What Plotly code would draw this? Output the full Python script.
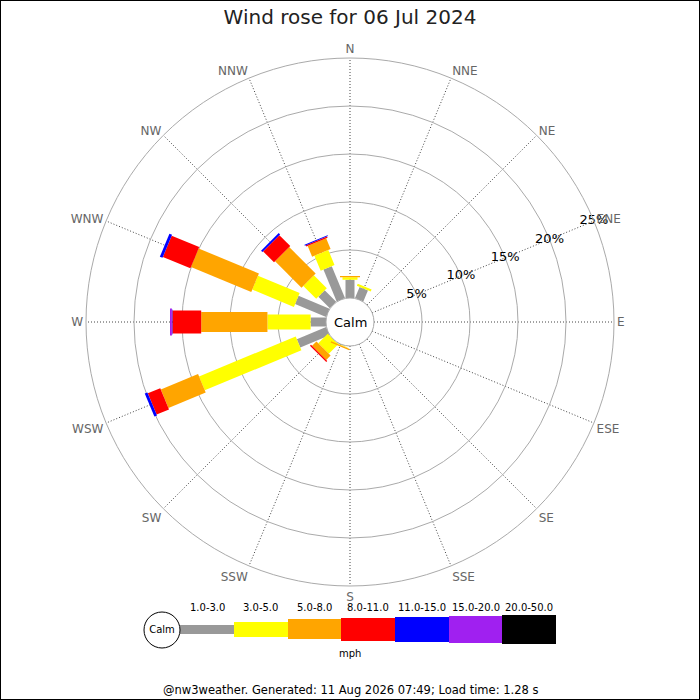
import plotly.graph_objects as go

# wind rose data, % of time per direction and speed bin
directions = ['N', 'NNE', 'NE', 'ENE', 'E', 'ESE', 'SE', 'SSE',
              'S', 'SSW', 'SW', 'WSW', 'W', 'WNW', 'NW', 'NNW']
speed_bins = ['1.0-3.0', '3.0-5.0', '5.0-8.0', '8.0-11.0', '11.0-15.0', '15.0-20.0', '20.0-50.0']

pct_1_3 = [1.9, 1.25, 0, 0, 0, 0, 0, 0, 0, 0.05, 0.0, 3.3, 1.6, 3.5, 1.7, 3.6]
pct_3_5 = [0.25, 0.25, 0, 0, 0, 0, 0, 0, 0, 0.05, 1.4, 10.9, 4.5, 4.7, 1.9, 1.7]
pct_5_8 = [0.15, 0, 0, 0, 0, 0, 0, 0, 0, 0.15, 0.65, 4.2, 6.9, 6.8, 3.9, 1.2]
pct_8_11 = [0, 0, 0, 0, 0, 0, 0, 0, 0, 0, 0.15, 1.4, 3.0, 3.1, 1.6, 0.15]
pct_11_15 = [0, 0, 0, 0, 0, 0, 0, 0, 0, 0, 0, 0.3, 0.05, 0.3, 0.2, 0.1]
pct_15_20 = [0, 0, 0, 0, 0, 0, 0, 0, 0, 0, 0, 0, 0.2, 0, 0, 0]
pct_20_50 = [0] * 16

ring_vals = [0, 5, 10, 15, 20, 25]
ring_labels = ['5%', '10%', '15%', '20%', '25%']

all_bins = [pct_1_3, pct_3_5, pct_5_8, pct_8_11, pct_11_15, pct_15_20, pct_20_50]
colors = ['#999999', '#ffff00', '#ffa500', '#ff0000', '#0000ff', '#a020f0', '#000000']
bar_px = [9, 15, 20, 23, 25, 27, 29]   # thickness of each speed bin, in pixels

angles = [i * 22.5 for i in range(len(directions))]

fig = go.Figure()

# stacked segments drawn as thick radial lines so they keep a constant width
base = [0.0] * len(directions)
for vals, col, w in zip(all_bins, colors, bar_px):
    rr, tt = [], []
    for k, v in enumerate(vals):
        if v > 0:
            rr += [base[k], base[k] + v, None]
            tt += [angles[k], angles[k], None]
            base[k] += v
    if rr:
        fig.add_trace(go.Scatterpolar(r=rr, theta=tt, mode='lines',
                                      line=dict(color=col, width=w),
                                      hoverinfo='skip', showlegend=False))

# ring labels sit on the ENE spoke
fig.add_trace(go.Scatterpolar(r=ring_vals[1:], theta=[67.5] * len(ring_labels),
                              mode='text', text=ring_labels, textposition='middle center',
                              textfont=dict(size=13, color='black'),
                              hoverinfo='skip', showlegend=False))

# legend strip underneath
step = 53.7
leg_x = [67 + step * i for i in range(len(speed_bins))]
fig.add_trace(go.Bar(x=leg_x, y=bar_px, base=[-h / 2 for h in bar_px],
                     width=step, marker=dict(color=colors, line=dict(width=0)),
                     xaxis='x2', yaxis='y2', hoverinfo='skip', showlegend=False))
fig.add_trace(go.Scatter(x=[22], y=[-1], mode='markers+text', text=['Calm'],
                         textposition='middle center',
                         textfont=dict(size=10, color='black'),
                         marker=dict(size=36, color='white', line=dict(color='black', width=1)),
                         xaxis='x2', yaxis='y2', hoverinfo='skip', showlegend=False))

annotations = []
for xx, lab in zip(leg_x, speed_bins):
    annotations.append(dict(x=xx, y=22, xref='x2', yref='y2', text=lab, showarrow=False,
                            font=dict(size=10, color='black')))
annotations.append(dict(x=210, y=-24, xref='x2', yref='y2', text='mph', showarrow=False,
                        font=dict(size=10, color='black')))
annotations.append(dict(x=0.5, y=1 - 322 / 700, xref='paper', yref='paper', text='Calm',
                        showarrow=False, font=dict(size=13, color='black')))
annotations.append(dict(x=0.5, y=1 - 690 / 700, xref='paper', yref='paper',
                        xanchor='center', yanchor='middle',
                        text='@nw3weather. Generated: 11 Aug 2026 07:49; Load time: 1.28 s',
                        showarrow=False, font=dict(size=11.5, color='black')))

fig.update_layout(
    width=700, height=700,
    margin=dict(l=0, r=0, t=0, b=0),
    paper_bgcolor='white', plot_bgcolor='white',
    font=dict(family='DejaVu Sans'),
    title=dict(text='Wind rose for 06 Jul 2024', x=0.5, y=1 - 17 / 700,
               xanchor='center', yanchor='middle',
               font=dict(size=20, color='#222222')),
    polar=dict(
        domain=dict(x=[86 / 700, 614 / 700], y=[1 - 586 / 700, 1 - 58 / 700]),
        hole=24 / 264,
        bgcolor='white',
        radialaxis=dict(range=[0, 25], tickvals=ring_vals, showticklabels=False,
                        angle=22.5, showline=False, ticks='',
                        gridcolor='#aaaaaa', gridwidth=1),
        angularaxis=dict(direction='clockwise', rotation=90,
                         tickvals=angles, ticktext=directions, ticks='',
                         gridcolor='#444444', griddash='1px,2px', gridwidth=1,
                         showline=True, linecolor='#aaaaaa', linewidth=1,
                         tickfont=dict(size=12, color='#666666')),
    ),
    xaxis2=dict(domain=[140 / 700, 560 / 700], range=[0, 420], visible=False,
                anchor='y2', fixedrange=True),
    yaxis2=dict(domain=[1 - 664 / 700, 1 - 594 / 700], range=[-35, 35], visible=False,
                anchor='x2', fixedrange=True),
    bargap=0,
    annotations=annotations,
    shapes=[dict(type='rect', xref='paper', yref='paper', x0=0, x1=1, y0=0, y1=1,
                 line=dict(color='black', width=2))],
)

fig.write_html("out.html", config={'displayModeBar': False},
               post_script="document.body.style.margin='0';")
